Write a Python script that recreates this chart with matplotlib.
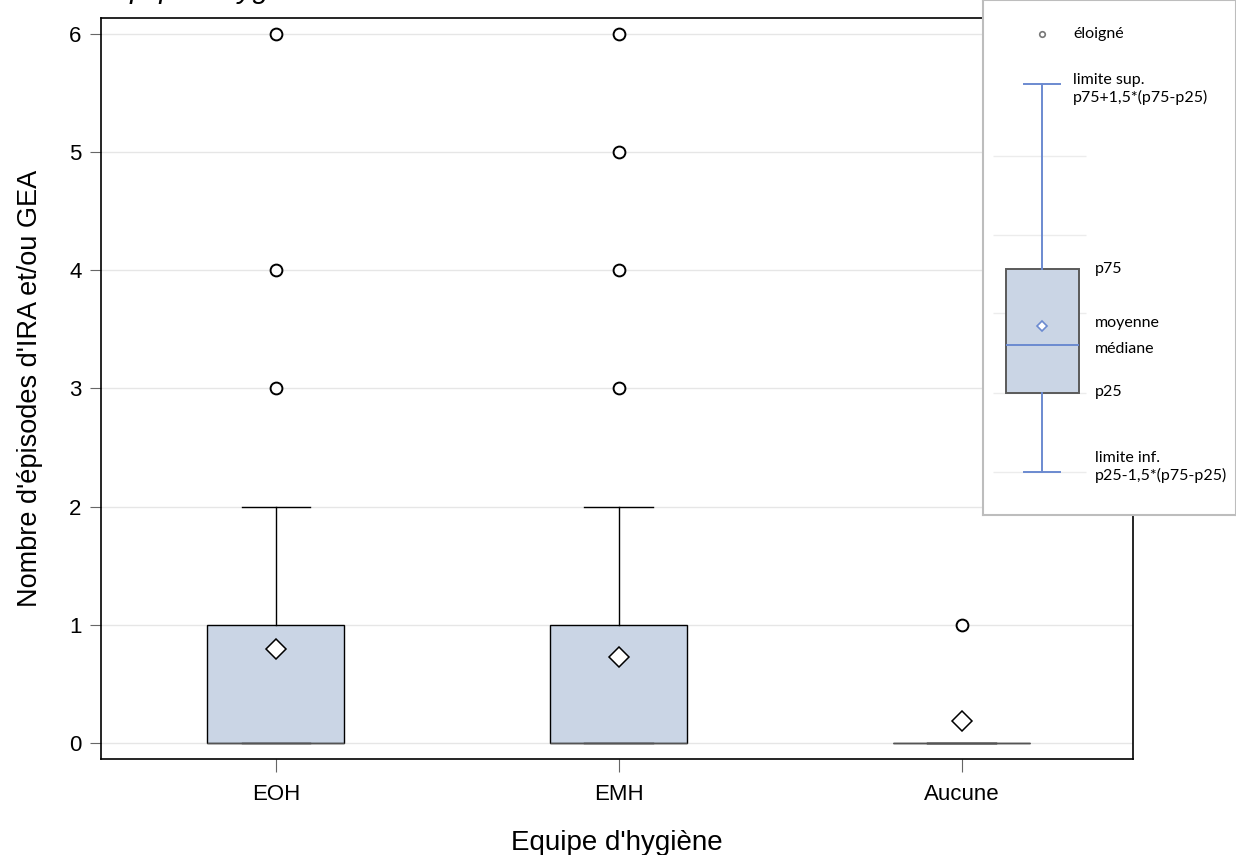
import matplotlib
matplotlib.use("Agg")
import matplotlib.pyplot as plt

# data
groups = ["EOH", "EMH", "Aucune"]
q1 = [0, 0, 0]
median = [0, 0, 0]
q3 = [1, 1, 0]
whis_low = [0, 0, 0]
whis_high = [2, 2, 0]
means = [0.80, 0.73, 0.19]
outliers = [[3, 4, 6], [3, 4, 5, 6], [1]]
y_ticks = [0, 1, 2, 3, 4, 5, 6]

# schematic box used in the key (arbitrary units)
key_stats = dict(whislo=0.43, q1=1.22, med=1.70, q3=2.46, whishi=4.31, mean=1.89, fliers=[4.81])
key_grid = [0.43, 1.22, 2.02, 2.80, 3.59]
key_labels = [("éloigné", 0.90, 4.81), ("limite sup.\np75+1,5*(p75-p25)", 0.90, 4.26),
              ("p75", 1.12, 2.46), ("moyenne", 1.12, 1.92), ("médiane", 1.12, 1.66),
              ("p25", 1.12, 1.23), ("limite inf.\np25-1,5*(p75-p25)", 1.12, 0.48)]

plt.rcParams["font.family"] = ["Liberation Sans", "DejaVu Sans"]

fill = "#cad5e5"
blue = "#6b8ad0"

fig = plt.figure(figsize=(12.36, 8.55), dpi=100)
ax = fig.add_axes([101 / 1236, 96 / 855, 1032 / 1236, 741 / 855])

stats = []
for i, g in enumerate(groups):
    stats.append(dict(label=g, q1=q1[i], med=median[i], q3=q3[i], whislo=whis_low[i],
                      whishi=whis_high[i], mean=means[i], fliers=outliers[i]))

ax.bxp(stats, positions=range(len(groups)), widths=0.40, showmeans=True, patch_artist=True,
       boxprops=dict(facecolor=fill, edgecolor="black", linewidth=1),
       medianprops=dict(color="#555555", linewidth=1),
       whiskerprops=dict(color="black", linewidth=1),
       capprops=dict(color="black", linewidth=1),
       flierprops=dict(marker="o", markersize=8.5, markerfacecolor="white",
                       markeredgecolor="black", markeredgewidth=1.4),
       meanprops=dict(marker="D", markersize=10, markerfacecolor="white",
                      markeredgecolor="black", markeredgewidth=1.1))

ax.set_xlim(-0.51, 2.5)
ax.set_ylim(-0.135, 6.135)
ax.set_yticks(y_ticks)
ax.yaxis.grid(True, color="#e6e6e6", linewidth=1)
ax.set_axisbelow(True)
ax.tick_params(axis="both", length=8, color="#666666", labelsize=16, pad=6)
ax.tick_params(axis="x", length=9, pad=9)
for s in ax.spines.values():
    s.set_linewidth(1.2)
ax.set_xlabel("Equipe d'hygiène", fontsize=20, labelpad=18)
ax.set_ylabel("Nombre d'épisodes d'IRA et/ou GEA", fontsize=19.5, labelpad=19)

fig.text(101 / 1236, 1.0 + 2 / 855, "Equipe d'hygiène", fontsize=21, style="italic",
         ha="left", va="baseline")

# key (inset drawing)
kx = fig.add_axes([983 / 1236, 340 / 855, 253 / 1236, 515 / 855])
kx.set_xlim(0, 2.53)
kx.set_ylim(0, 5.15)
kx.hlines(key_grid, 0.10, 1.03, color="#ececec", linewidth=1)
kx.bxp([key_stats], positions=[0.59], widths=0.73, capwidths=0.36, showmeans=True, patch_artist=True,
       boxprops=dict(facecolor=fill, edgecolor="#5a5a5a", linewidth=1.4),
       medianprops=dict(color=blue, linewidth=1.4),
       whiskerprops=dict(color=blue, linewidth=1.4),
       capprops=dict(color=blue, linewidth=1.4),
       flierprops=dict(marker="o", markersize=4, markerfacecolor="white",
                       markeredgecolor="#777777", markeredgewidth=1.2),
       meanprops=dict(marker="D", markersize=5, markerfacecolor="white",
                      markeredgecolor=blue, markeredgewidth=1.2))
for txt, x, y in key_labels:
    kx.text(x, y, txt, fontsize=11.5, family=["Lato", "DejaVu Sans"], va="center", ha="left",
            linespacing=1.3)
kx.set_xticks([])
kx.set_yticks([])
for s in kx.spines.values():
    s.set_color("#bdbdbd")
    s.set_linewidth(1.5)

fig.savefig("out.png", dpi=100)
